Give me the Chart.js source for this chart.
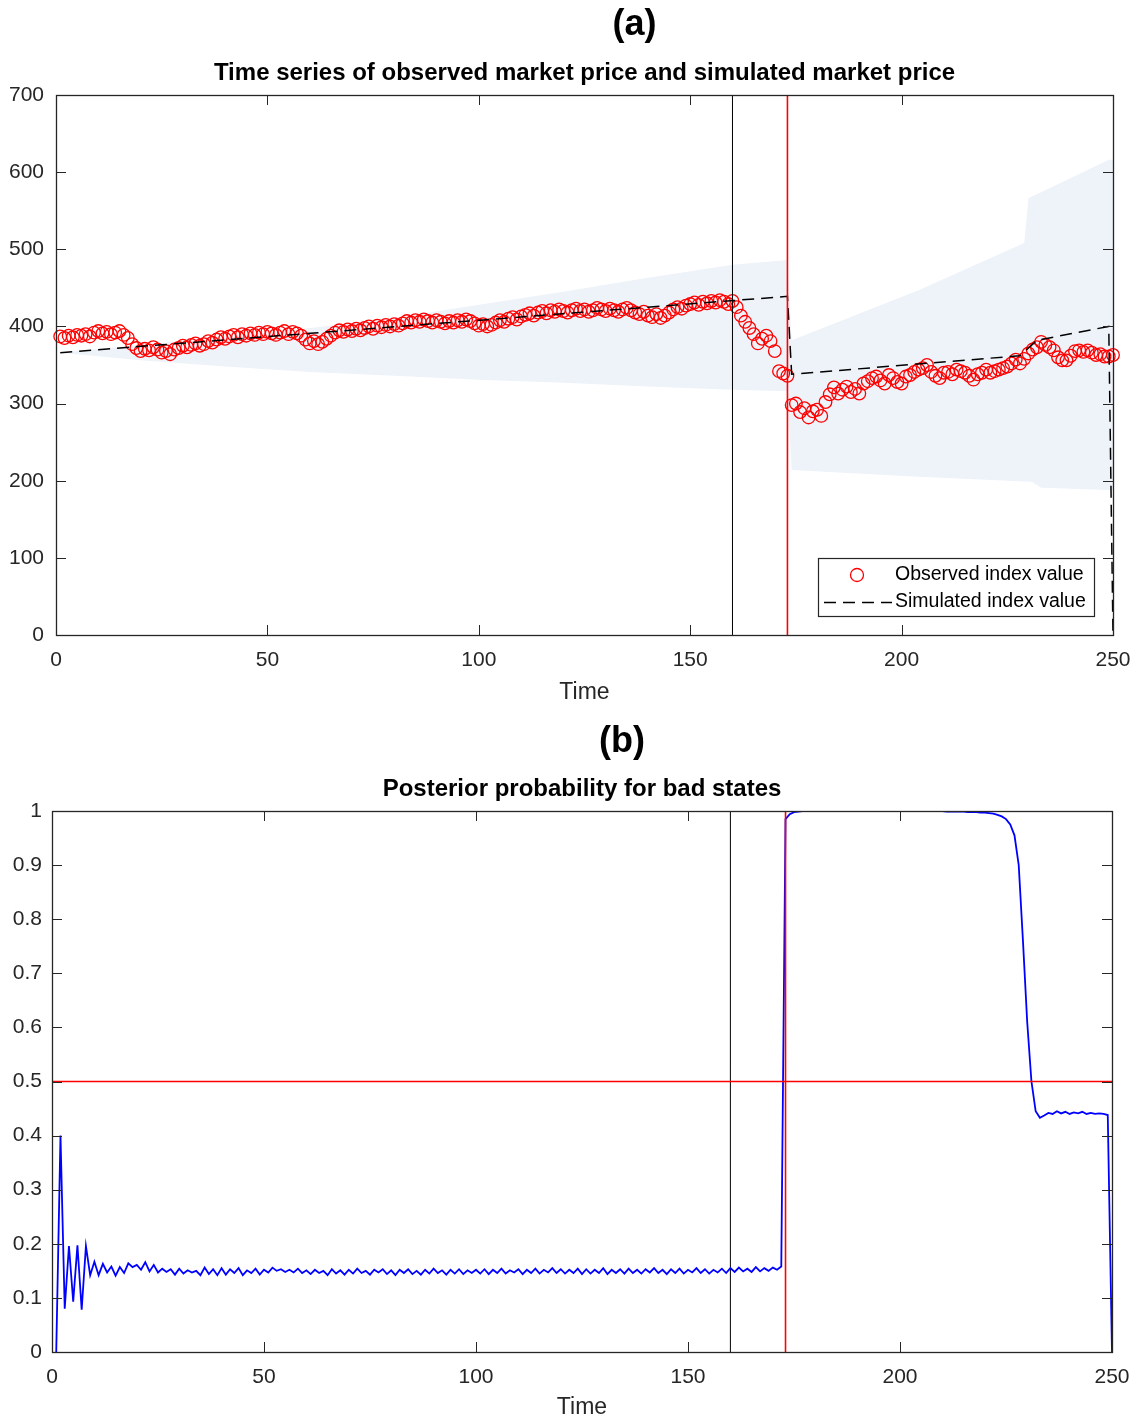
<!DOCTYPE html>
<html>
<head>
<meta charset="utf-8">
<script src="https://cdn.jsdelivr.net/npm/chart.js@4.4.0/dist/chart.umd.min.js"></script>
<style>
  html, body { margin: 0; padding: 0; background: #fff; }
  #wrap { width: 1141px; height: 1421px; }
  canvas { display: block; }
</style>
</head>
<body>
<div id="wrap">
  <canvas id="chartA" width="1141" height="710"></canvas>
  <canvas id="chartB" width="1141" height="711"></canvas>
</div>
<script>
// observed index value, one per time step starting at t = 1
const firstStep = 1;
const observedIndex = [
  387, 385, 388, 386, 389, 388, 390, 387, 392, 394,
  391, 393, 390, 392, 394, 389, 385, 377, 372, 368,
  371, 369, 373, 370, 366, 368, 364, 370, 372, 375,
  373, 376, 378, 375, 377, 381, 379, 383, 386, 384,
  387, 389, 386, 390, 388, 391, 389, 392, 390, 393,
  391, 389, 392, 394, 390, 393, 391, 388, 383, 378,
  381, 377, 380, 384, 388, 392, 395, 393, 396, 394,
  397, 395, 398, 400, 397, 401, 399, 402, 400, 403,
  401, 404, 407, 405, 408, 406, 409, 407, 405, 408,
  406, 404, 407, 405, 408, 406, 409, 407, 404, 401,
  403, 400, 402, 405, 408, 406, 410, 412, 409, 413,
  415, 417, 414, 418, 420, 417, 421, 419, 422, 420,
  418, 421, 423, 420, 422, 419, 421, 424, 422, 420,
  423, 421, 419, 422, 424, 421, 418, 416, 419, 414,
  412, 416, 411, 414, 418, 422, 425, 423, 427, 429,
  431, 428, 432, 430, 433, 431, 434, 432, 429, 433,
  425, 414, 406, 398, 390, 378, 384, 388, 381, 368,
  342, 339, 336, 298, 300, 289, 294, 282, 290, 292,
  284, 302, 312, 321, 313, 318, 322, 315, 319, 313,
  326, 329, 333, 335, 330, 326, 337, 333, 328, 326,
  335, 337, 341, 344, 346, 350, 341, 336, 333, 340,
  341, 338, 344, 342, 340, 336, 331, 338, 340, 344,
  340, 342, 344, 346, 348, 352, 357, 352, 358, 365,
  370, 373, 380, 376, 373, 369, 360, 356, 356, 362,
  368, 369, 367, 369, 366, 363, 364, 361, 361, 363
];

// simulated index value (piecewise trend, vertices only)
const simTime  = [1, 173, 174, 228, 232, 249, 250];
const simIndex = [366, 439, 338, 362, 382, 400, 0];

// confidence band around the simulated path
const bandTime  = [1, 20, 40, 60, 80, 100, 120, 140, 160, 173, 174, 204, 229, 230, 231, 233, 249, 250];
const bandUpper = [366, 376, 387, 398, 411, 428, 445, 463, 480, 486, 382, 447, 508, 566, 569, 574, 616, 616];
const bandLower = [366, 356, 348, 341, 336, 331, 327, 322, 318, 316, 214, 205, 199, 199, 198, 191, 188, 188];

// posterior probability of the bad state, one per time step starting at t = 1
const posterior = [
  0.000, 0.400, 0.080, 0.196, 0.093, 0.197, 0.078, 0.196, 0.142, 0.167,
  0.142, 0.163, 0.147, 0.158, 0.141, 0.157, 0.146, 0.164, 0.157, 0.161,
  0.152, 0.166, 0.149, 0.161, 0.147, 0.154, 0.148, 0.153, 0.143, 0.154,
  0.145, 0.151, 0.147, 0.150, 0.142, 0.156, 0.144, 0.153, 0.142, 0.155,
  0.143, 0.153, 0.146, 0.155, 0.142, 0.151, 0.146, 0.154, 0.143, 0.152,
  0.147, 0.156, 0.150, 0.153, 0.148, 0.152, 0.147, 0.154, 0.146, 0.151,
  0.144, 0.152, 0.146, 0.150, 0.142, 0.153, 0.145, 0.151, 0.143, 0.152,
  0.145, 0.154, 0.146, 0.150, 0.143, 0.152, 0.147, 0.153, 0.144, 0.151,
  0.142, 0.152, 0.146, 0.153, 0.144, 0.150, 0.143, 0.152, 0.145, 0.154,
  0.146, 0.151, 0.143, 0.152, 0.145, 0.153, 0.144, 0.151, 0.146, 0.152,
  0.145, 0.153, 0.144, 0.152, 0.146, 0.154, 0.145, 0.151, 0.147, 0.153,
  0.144, 0.152, 0.146, 0.154, 0.145, 0.152, 0.147, 0.155, 0.146, 0.153,
  0.145, 0.152, 0.146, 0.154, 0.144, 0.153, 0.145, 0.152, 0.146, 0.155,
  0.144, 0.152, 0.146, 0.153, 0.145, 0.154, 0.146, 0.152, 0.145, 0.153,
  0.147, 0.155, 0.146, 0.152, 0.144, 0.153, 0.146, 0.154, 0.145, 0.152,
  0.147, 0.155, 0.146, 0.153, 0.145, 0.152, 0.147, 0.154, 0.146, 0.155,
  0.148, 0.156, 0.149, 0.154, 0.148, 0.157, 0.149, 0.155, 0.150, 0.156,
  0.152, 0.158, 0.985, 0.994, 0.998, 0.999, 1.000, 1.000, 1.000, 1.000,
  1.000, 1.000, 1.000, 1.000, 1.000, 1.000, 1.000, 1.000, 1.000, 1.000,
  1.000, 1.000, 1.000, 1.000, 1.000, 1.000, 1.000, 1.000, 1.000, 1.000,
  1.000, 1.000, 1.000, 1.000, 1.000, 1.000, 1.000, 1.000, 1.000, 1.000,
  0.999, 0.999, 0.999, 0.999, 0.999, 0.998, 0.998, 0.998, 0.997, 0.997,
  0.996, 0.995, 0.993, 0.990, 0.985, 0.975, 0.955, 0.900, 0.760, 0.610,
  0.500, 0.445, 0.433, 0.437, 0.442, 0.440, 0.445, 0.441, 0.444, 0.440,
  0.443, 0.441, 0.444, 0.440, 0.442, 0.440, 0.441, 0.440, 0.438, 0.000
];

const calmEnd = 160;     // black marker line
const crashStart = 173;  // red marker line
const threshold = 0.5;

const timeRange = [0, 250];
const timeStep = 50;
const priceRange = [0, 700];
const priceStep = 100;
const probRange = [0, 1];
const probStep = 0.1;

const FONT = "'Liberation Sans', Arial, Helvetica, sans-serif";
const AXIS = '#262626';
const BAND = '#eef3fa';
const RED = '#ff0000';

Chart.defaults.font.family = FONT;
Chart.defaults.color = AXIS;
Chart.defaults.animation = false;

const toPoints = (xs, ys) => ys.map((y, i) => ({ x: xs[i], y }));
const stepPoints = ys => ys.map((y, i) => ({ x: firstStep + i, y }));
const vline = (x, range) => [{ x, y: range[0] }, { x, y: range[1] }];
const hline = (y, range) => [{ x: range[0], y }, { x: range[1], y }];

// MATLAB style box with ticks pointing inwards on all four sides
const boxAxes = {
  id: 'boxAxes',
  afterDraw(chart) {
    const { ctx, chartArea: a, scales: { x, y } } = chart;
    const len = 10;
    ctx.save();
    ctx.strokeStyle = AXIS;
    ctx.lineWidth = 1;
    x.ticks.forEach(t => {
      const px = Math.round(x.getPixelForValue(t.value)) + 0.5;
      ctx.beginPath();
      ctx.moveTo(px, a.bottom); ctx.lineTo(px, a.bottom - len);
      ctx.moveTo(px, a.top); ctx.lineTo(px, a.top + len);
      ctx.stroke();
    });
    y.ticks.forEach(t => {
      const py = Math.round(y.getPixelForValue(t.value)) + 0.5;
      ctx.beginPath();
      ctx.moveTo(a.left, py); ctx.lineTo(a.left + len, py);
      ctx.stroke();
      ctx.beginPath();
      ctx.moveTo(a.right, py); ctx.lineTo(a.right - len, py);
      ctx.stroke();
    });
    ctx.lineWidth = 1.3;
    ctx.strokeRect(Math.round(a.left) + 0.5, Math.round(a.top) + 0.5,
                   Math.round(a.right - a.left), Math.round(a.bottom - a.top));
    ctx.restore();
  }
};

// bold panel letter above the title, offset from the plot centre
const panelLetter = {
  id: 'panelLetter',
  afterDraw(chart, args, opts) {
    const { ctx, chartArea: a } = chart;
    ctx.save();
    ctx.fillStyle = '#000';
    ctx.font = 'bold 36px ' + FONT;
    ctx.textAlign = 'center';
    ctx.textBaseline = 'middle';
    ctx.fillText(opts.text, (a.left + a.right) / 2 + opts.dx, opts.y);
    ctx.restore();
  }
};

// legend box in the lower right corner of panel (a)
const cornerLegend = {
  id: 'cornerLegend',
  afterDraw(chart) {
    const { ctx, chartArea: a } = chart;
    const w = 276, h = 58;
    const x0 = Math.round(a.right) - 19 - w, y0 = Math.round(a.bottom) - 19 - h;
    const obs = chart.data.datasets[2];
    const sim = chart.data.datasets[3];
    ctx.save();
    ctx.fillStyle = '#fff';
    ctx.fillRect(x0, y0, w, h);
    ctx.strokeStyle = '#262626';
    ctx.lineWidth = 1.2;
    ctx.strokeRect(x0 + 0.5, y0 + 0.5, w, h);

    ctx.strokeStyle = obs.pointBorderColor;
    ctx.lineWidth = obs.pointBorderWidth;
    ctx.beginPath();
    ctx.arc(x0 + 39, y0 + 17, 6.5, 0, Math.PI * 2);
    ctx.stroke();

    ctx.strokeStyle = sim.borderColor;
    ctx.lineWidth = sim.borderWidth;
    ctx.setLineDash(sim.borderDash);
    ctx.beginPath();
    ctx.moveTo(x0 + 6, y0 + 44.5);
    ctx.lineTo(x0 + 74, y0 + 44.5);
    ctx.stroke();
    ctx.setLineDash([]);

    ctx.fillStyle = '#000';
    ctx.font = '19.5px ' + FONT;
    ctx.textBaseline = 'middle';
    ctx.fillText(obs.label, x0 + 77, y0 + 17);
    ctx.fillText(sim.label, x0 + 77, y0 + 44);
    ctx.restore();
  }
};

function timeAxis(height, titlePad) {
  return {
    type: 'linear',
    min: timeRange[0], max: timeRange[1],
    ticks: { stepSize: timeStep, padding: 13, font: { size: 21 }, color: AXIS },
    grid: { display: false, drawTicks: false },
    border: { display: false },
    title: { display: true, text: 'Time', color: AXIS, font: { size: 23 },
             padding: { top: 0, bottom: titlePad } },
    afterFit: s => {
      s.height = height;
      // end labels may overhang; the layout padding keeps room for them
      s.paddingLeft = 0;
      s.paddingRight = 0;
    }
  };
}

function valueAxis(range, step, width, pad) {
  return {
    type: 'linear',
    min: range[0], max: range[1],
    ticks: { stepSize: step, padding: pad, font: { size: 21 }, color: AXIS,
             callback: v => String(Number(v.toFixed(1))) },
    grid: { display: false, drawTicks: false },
    border: { display: false },
    afterFit: s => { s.width = width; }
  };
}

function plotPlugins(letter, title, letterY, pad) {
  return {
    panelLetter: { text: letter, dx: letter === '(a)' ? 50 : 40, y: letterY },
    title: { display: true, text: title, color: '#000', fullSize: false,
             font: { size: 24, weight: 'bold' }, padding: pad },
    legend: { display: false },
    tooltip: { enabled: false }
  };
}

// (a) observed vs simulated market price
new Chart(document.getElementById('chartA'), {
  type: 'line',
  data: {
    datasets: [
      {
        label: 'band upper', data: toPoints(bandTime, bandUpper),
        borderWidth: 0, pointRadius: 0, backgroundColor: BAND, fill: '+1', order: 6
      },
      {
        label: 'band lower', data: toPoints(bandTime, bandLower),
        borderWidth: 0, pointRadius: 0, fill: false, order: 7
      },
      {
        label: 'Observed index value', data: stepPoints(observedIndex),
        showLine: false, pointStyle: 'circle', pointRadius: 6.3,
        pointBorderColor: RED, pointBorderWidth: 1.3,
        pointBackgroundColor: 'rgba(0,0,0,0)', clip: 8, order: 3
      },
      {
        label: 'Simulated index value', data: toPoints(simTime, simIndex),
        borderColor: '#000', borderWidth: 1.5, borderDash: [12, 7],
        pointRadius: 0, fill: false, order: 2
      },
      {
        label: 'calm end', data: vline(calmEnd, priceRange),
        borderColor: '#000', borderWidth: 1, pointRadius: 0, order: 1
      },
      {
        label: 'crash start', data: vline(crashStart, priceRange),
        borderColor: RED, borderWidth: 1.6, pointRadius: 0, order: 0
      }
    ]
  },
  options: {
    responsive: false,
    layout: { padding: { left: 0, right: 28, top: 48, bottom: 0 } },
    scales: {
      x: timeAxis(75, 4),
      y: valueAxis(priceRange, priceStep, 56, 12)
    },
    plugins: plotPlugins('(a)', 'Time series of observed market price and simulated market price',
                         25, { top: 10.6, bottom: 7.6 })
  },
  plugins: [boxAxes, cornerLegend, panelLetter]
});

// (b) posterior probability of the bad state
new Chart(document.getElementById('chartB'), {
  type: 'line',
  data: {
    datasets: [
      {
        label: 'posterior', data: stepPoints(posterior),
        borderColor: '#0000ff', borderWidth: 1.8, pointRadius: 0, fill: false, order: 1
      },
      {
        label: 'calm end', data: vline(calmEnd, probRange),
        borderColor: '#000', borderWidth: 1, pointRadius: 0, order: 2
      },
      {
        label: 'crash start', data: vline(crashStart, probRange),
        borderColor: RED, borderWidth: 1.6, pointRadius: 0, order: 0
      },
      {
        label: 'threshold', data: hline(threshold, timeRange),
        borderColor: RED, borderWidth: 1.6, pointRadius: 0, order: 0
      }
    ]
  },
  options: {
    responsive: false,
    layout: { padding: { left: 0, right: 29, top: 50, bottom: 0 } },
    scales: {
      x: timeAxis(69, 0),
      y: valueAxis(probRange, probStep, 52, 10)
    },
    plugins: plotPlugins('(b)', 'Posterior probability for bad states',
                         32, { top: 14.6, bottom: 7.6 })
  },
  plugins: [boxAxes, panelLetter]
});
</script>
</body>
</html>
